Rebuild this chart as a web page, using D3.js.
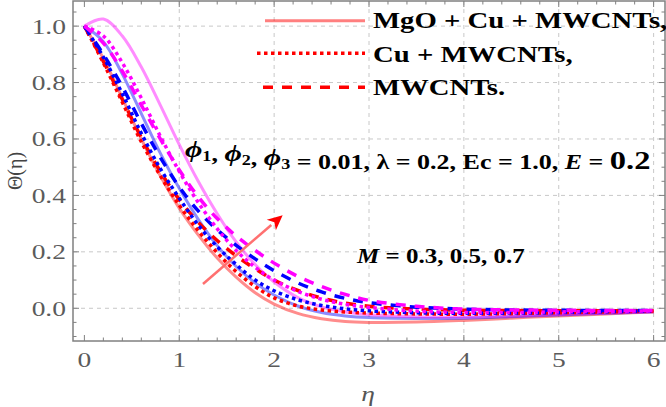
<!DOCTYPE html>
<html><head><meta charset="utf-8">
<script src="https://cdn.jsdelivr.net/npm/d3@7"></script>
<style>body{margin:0;background:#fff}svg{display:block}</style>
</head><body>
<svg id="c" width="666" height="407"></svg>
<script>
// ---- data ----
const etaGrid = [0,0.2,0.4,0.6,0.8,1.0,1.2,1.4,1.6,1.8,2.0,2.25,2.5,2.75,3.0,3.5,4.0,4.5,5.0,5.5,6.0];
// M = 0.3 (red)
const redSolid  = [1.0,0.885,0.745,0.60,0.47,0.355,0.26,0.178,0.11,0.055,0.015,-0.018,-0.037,-0.047,-0.05,-0.049,-0.043,-0.035,-0.027,-0.02,-0.013];
const redDotted = [1.0,0.87,0.73,0.59,0.47,0.365,0.275,0.197,0.13,0.077,0.037,0.008,-0.006,-0.013,-0.017,-0.02,-0.021,-0.019,-0.016,-0.013,-0.01];
const redDashed = [1.0,0.875,0.74,0.605,0.485,0.385,0.305,0.24,0.186,0.14,0.10,0.063,0.036,0.018,0.007,-0.003,-0.007,-0.008,-0.009,-0.009,-0.009];
// M = 0.5 (blue)
const blueSolid  = [1.0,0.945,0.83,0.69,0.55,0.425,0.315,0.222,0.148,0.09,0.047,0.008,-0.015,-0.027,-0.033,-0.036,-0.035,-0.03,-0.024,-0.018,-0.012];
const blueDotted = [1.0,0.89,0.76,0.62,0.495,0.39,0.295,0.218,0.155,0.10,0.062,0.03,0.01,-0.002,-0.009,-0.016,-0.018,-0.017,-0.015,-0.012,-0.01];
const blueDashed = [1.0,0.90,0.785,0.655,0.535,0.43,0.345,0.278,0.223,0.175,0.133,0.09,0.058,0.035,0.02,0.004,-0.003,-0.006,-0.007,-0.008,-0.008];
// M = 0.7 (magenta)
const magSolid  = [1.0,1.025,0.965,0.855,0.72,0.58,0.45,0.335,0.235,0.155,0.093,0.038,0.005,-0.013,-0.023,-0.03,-0.031,-0.027,-0.022,-0.017,-0.012];
const magDotted = [1.0,0.965,0.87,0.745,0.61,0.485,0.375,0.282,0.205,0.145,0.10,0.06,0.032,0.014,0.003,-0.01,-0.015,-0.015,-0.013,-0.011,-0.009];
const magDashed = [1.0,0.94,0.84,0.72,0.60,0.49,0.395,0.318,0.256,0.205,0.16,0.113,0.077,0.049,0.028,0.007,-0.003,-0.006,-0.007,-0.008,-0.008];

const xTicks = [0,1,2,3,4,5,6];
const yTicks = [0.0,0.2,0.4,0.6,0.8,1.0];
const legendLabels = ["MgO + Cu + MWCNTs,","Cu + MWCNTs,","MWCNTs."];

// ---- layout ----
const svg = d3.select("#c");
const L=73, R=665, T=1, B=341;
const x = d3.scaleLinear().domain([-0.12,6.12]).range([L,R]);
const y = d3.scaleLinear().domain([-0.116,1.089]).range([B,T]);
const SX = 1.25; // horizontal stretch of the original text

// grid
const g = svg.append("g");
g.selectAll(".gx").data(xTicks.filter(d=>d>0)).join("line")
  .attr("x1",d=>x(d)).attr("x2",d=>x(d)).attr("y1",T).attr("y2",B)
  .attr("stroke","#c8c8c8").attr("stroke-dasharray","4,4");
g.selectAll(".gy").data(yTicks).join("line")
  .attr("y1",d=>y(d)).attr("y2",d=>y(d)).attr("x1",L).attr("x2",R)
  .attr("stroke","#c8c8c8").attr("stroke-dasharray","4,4");

// series
const line = d3.line().x((d,i)=>x(etaGrid[i])).y(d=>y(d)).curve(d3.curveCatmullRom.alpha(0.5));
const series = [
  {v:redSolid, c:"#ff0000", s:"solid"},
  {v:blueSolid, c:"#0000ff", s:"solid"},
  {v:magSolid, c:"#ff00ff", s:"solid"},
  {v:redDotted, c:"#ff0000", s:"dot"},
  {v:redDashed, c:"#ff0000", s:"dash"},
  {v:blueDotted, c:"#0000ff", s:"dot"},
  {v:blueDashed, c:"#0000ff", s:"dash"},
  {v:magDotted, c:"#ff00ff", s:"dot"},
  {v:magDashed, c:"#ff00ff", s:"dash"}
];
const plot = svg.append("g");
plot.append("clipPath").attr("id","clip").append("rect").attr("x",L).attr("y",T).attr("width",R-L).attr("height",B-T);
const pg = plot.append("g").attr("clip-path","url(#clip)");
series.forEach(s=>{
  const p = pg.append("path").attr("d",line(s.v)).attr("fill","none").attr("stroke",s.c);
  if(s.s==="solid") p.attr("stroke-width",3).attr("stroke-opacity",0.45);
  if(s.s==="dot") p.attr("stroke-width",3.5).attr("stroke-dasharray","3.5,3.5");
  if(s.s==="dash") p.attr("stroke-width",3.5).attr("stroke-dasharray","10,9");
});

// frame & ticks
const ax = svg.append("g").attr("stroke","#808080");
ax.append("rect").attr("x",L).attr("y",T).attr("width",R-L).attr("height",B-T).attr("fill","none").attr("stroke-width",1.5);
const xMinor = d3.range(-0.0,6.01,0.2).map(d=>+d.toFixed(2)).filter(d=>!xTicks.includes(d));
const yMinor = d3.range(-0.1,1.06,0.05).map(d=>+d.toFixed(2)).filter(d=>!yTicks.map(t=>+t.toFixed(2)).includes(d));
function xt(arr,len){
  arr.forEach(d=>{
    ax.append("line").attr("x1",x(d)).attr("x2",x(d)).attr("y1",B).attr("y2",B-len);
    ax.append("line").attr("x1",x(d)).attr("x2",x(d)).attr("y1",T).attr("y2",T+len);
  });
}
function yt(arr,len){
  arr.forEach(d=>{
    ax.append("line").attr("y1",y(d)).attr("y2",y(d)).attr("x1",L).attr("x2",L+len);
    ax.append("line").attr("y1",y(d)).attr("y2",y(d)).attr("x1",R).attr("x2",R-len);
  });
}
xt(xTicks,6); xt(xMinor,3.5); yt(yTicks,6); yt(yMinor,3.5);

// text helper
function txt(px,py,anchor,size,opts={}){
  const t = svg.append("text").attr("transform",`translate(${px},${py}) scale(${opts.sx||SX},1)`)
    .attr("text-anchor",anchor).attr("font-family","'Liberation Serif','Times New Roman',serif")
    .attr("font-size",size).attr("fill",opts.fill||"#000");
  if(opts.bold) t.attr("font-weight","bold");
  if(opts.italic) t.attr("font-style","italic");
  return t;
}
const tickCol = "#5b5b5b";
xTicks.forEach(d=>txt(x(d),367,"middle",22,{fill:tickCol}).text(d3.format("d")(d)));
yTicks.forEach(d=>txt(66,y(d)+7.5,"end",22,{fill:tickCol}).text(d3.format(".1f")(d)));
txt(368,401,"middle",22,{fill:"#555",italic:true}).text("η");
svg.append("text").attr("transform","translate(22,171) rotate(-90)").attr("text-anchor","middle")
  .attr("font-family","'Liberation Serif',serif").attr("font-size",20).attr("fill","#444").text("Θ(η)");

// legend
const legY = [20.7,53.3,87.3];
const legX0 = [265,257,263];
const legStyles = ["solid","dot","dash"];
legendLabels.forEach((lab,i)=>{
  const l = svg.append("line").attr("x1",legX0[i]).attr("x2",365).attr("y1",legY[i]).attr("y2",legY[i]).attr("stroke","#ff0000");
  if(legStyles[i]==="solid") l.attr("stroke-width",3).attr("stroke-opacity",0.5);
  if(legStyles[i]==="dot") l.attr("stroke-width",3.5).attr("stroke-dasharray","3.5,3.5");
  if(legStyles[i]==="dash") l.attr("stroke-width",3.5).attr("stroke-dasharray","10,9");
  txt(373,[27.5,61.5,95][i],"start",23,{bold:true}).text(lab);
});

// annotations
const ann = txt(185,157,"start",20.8,{bold:true});
const phi = (n)=>{ ann.append("tspan").attr("font-style","italic").attr("font-size",24).text("ϕ");
  ann.append("tspan").attr("font-size",14.5).attr("dy",4).text(n);
  ann.append("tspan").attr("dy",-4).text(""); };
phi("1"); ann.append("tspan").text(", "); phi("2"); ann.append("tspan").text(", "); phi("3");
ann.append("tspan").text(" = 0.01, λ = 0.2, Ec = 1.0, ");
ann.append("tspan").attr("font-style","italic").text("E");
ann.append("tspan").text(" = ");
ann.append("tspan").attr("font-size",26).text("0.2");

const m = txt(357,263,"start",20,{bold:true});
m.append("tspan").attr("font-style","italic").text("M");
m.append("tspan").text(" = 0.3, 0.5, 0.7");

// arrow (data coords)
const arrowFrom = [1.25,0.086], arrowTo = [2.09,0.33];
const x1=x(arrowFrom[0]), y1=y(arrowFrom[1]), x2=x(arrowTo[0]), y2=y(arrowTo[1]);
const ang = Math.atan2(y2-y1,x2-x1), hl=15, hw=7;
const bx = x2-hl*Math.cos(ang), by = y2-hl*Math.sin(ang);
svg.append("line").attr("x1",x1).attr("y1",y1).attr("x2",bx).attr("y2",by).attr("stroke","#ff7070").attr("stroke-width",2.5);
svg.append("path").attr("d",`M${x2},${y2}L${bx+hw*Math.sin(ang)},${by-hw*Math.cos(ang)}L${bx+4*Math.cos(ang)},${by+4*Math.sin(ang)}L${bx-hw*Math.sin(ang)},${by+hw*Math.cos(ang)}Z`).attr("fill","#ff0000");
</script>
</body></html>
